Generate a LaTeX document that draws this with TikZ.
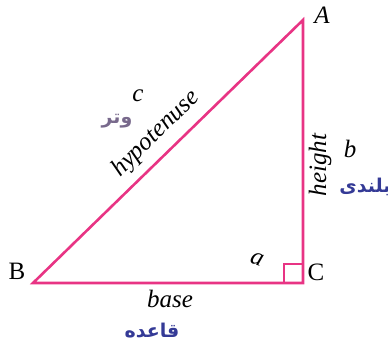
\documentclass[tikz,border=0pt]{standalone}
\usepackage{fontspec}
\setmainfont{Liberation Serif}
\newfontfamily\arabicfont[Script=Arabic]{DejaVu Sans}
\TeXXeTstate=1
\definecolor{edge}{RGB}{232,52,132}
\definecolor{fablue}{RGB}{52,58,150}
\definecolor{fagray}{RGB}{120,105,140}
\begin{document}
\begin{tikzpicture}[x=1pt,y=-1pt,
  side/.style={draw=edge,line width=2.6pt,line join=miter},
  vlab/.style={inner sep=0pt,font=\fontsize{25}{29}\selectfont},
  elab/.style={inner sep=0pt,font=\fontsize{25}{29}\selectfont\itshape},
  falab/.style={inner sep=0pt,text=fablue,font=\fontsize{19}{22}\selectfont\arabicfont\bfseries}]
\useasboundingbox (0,0) rectangle (388,346);
\coordinate (A) at (303,20);
\coordinate (B) at (33,283);
\coordinate (C) at (303,283);
\draw[side] (A) -- (C) -- (B) -- cycle;
\coordinate (r1) at (284,283);
\coordinate (r2) at (284,264);
\coordinate (r3) at (303,264);
\draw[draw=edge,line width=1.8pt] (r1) -- (r2) -- (r3);
\node[vlab,font=\fontsize{25}{29}\selectfont\itshape] (lA) at (322,15) {A};
\node[vlab] (lB) at (17,271) {B};
\node[vlab] (lC) at (316,272) {C};
\node[elab,rotate=-20] (la) at (257,259) {a};
\node[elab] (lb) at (350,149) {b};
\node[elab] (lc) at (138,96) {c};
\node[elab,rotate=44.5] (hyp) at (156,134) {hypotenuse};
\node[elab,rotate=90] (hgt) at (320,165) {height};
\node[elab] (bas) at (170,299) {base};
\node[falab,text=fagray] (fc) at (117,121) {\beginR وتر\endR};
\node[falab] (fb) at (365,187) {\beginR بلندی\endR};
\node[falab] (fa) at (152,331) {\beginR قاعده\endR};
\end{tikzpicture}
\end{document}
